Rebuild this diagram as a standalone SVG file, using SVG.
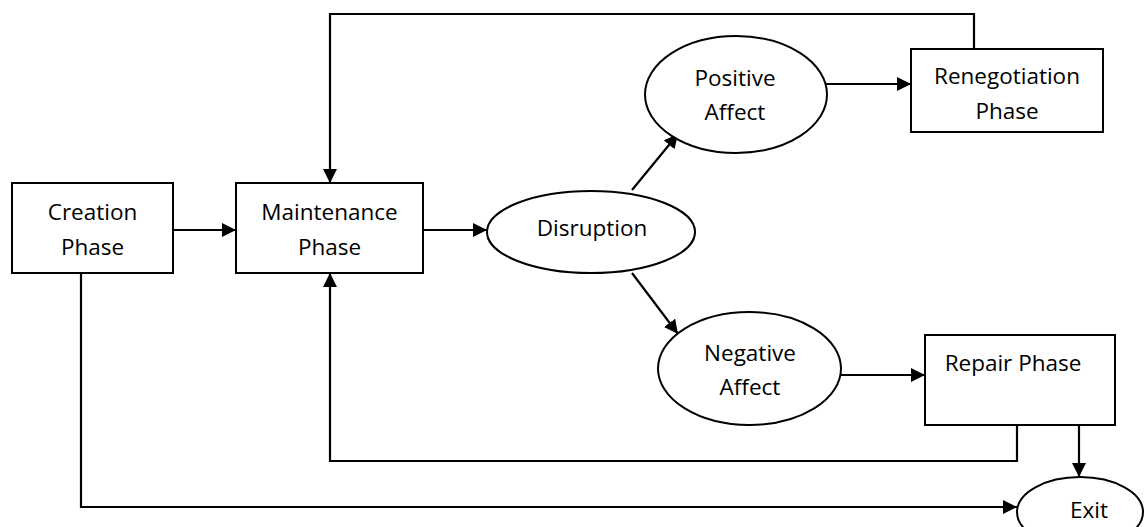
<svg xmlns="http://www.w3.org/2000/svg" width="1148" height="527" viewBox="0 0 1148 527">
<style>
.n{fill:#fff;stroke:#000;stroke-width:2}
.t{font-family:"Open Sans","Noto Sans","Liberation Sans",sans-serif;font-size:22.5px;fill:#000;text-anchor:middle}
.c{fill:none;stroke:#000;stroke-width:2.2}
.a{marker-end:url(#ah)}
</style>
<defs>
<marker id="ah" markerUnits="userSpaceOnUse" markerWidth="14" markerHeight="14" refX="14" refY="7" orient="auto">
<path d="M0,0 L14,7 L0,14 z" fill="#000"/>
</marker>
</defs>
<g id="connectors">
<line class="c a" x1="173" y1="230" x2="236" y2="230"/>
<line class="c a" x1="423" y1="230" x2="487" y2="230"/>
<line class="c a" x1="632" y1="190" x2="678" y2="134"/>
<line class="c a" x1="632" y1="273" x2="678" y2="334"/>
<line class="c a" x1="826" y1="84" x2="911" y2="84"/>
<line class="c a" x1="841" y1="375" x2="925" y2="375"/>
<polyline class="c a" points="974,49 974,14 330,14 330,183"/>
<polyline class="c a" points="1017,425 1017,461 330,461 330,273"/>
<polyline class="c a" points="81,273 81,507 1017,507"/>
<line class="c a" x1="1079" y1="425" x2="1079" y2="477"/>
</g>
<g id="creation">
<rect class="n" x="12" y="183" width="161" height="90"/>
<text class="t" x="92.5" y="220">Creation</text>
<text class="t" x="92.5" y="255">Phase</text>
</g>
<g id="maintenance">
<rect class="n" x="236" y="183" width="187" height="90"/>
<text class="t" x="329.5" y="220">Maintenance</text>
<text class="t" x="329.5" y="255">Phase</text>
</g>
<g id="disruption">
<ellipse class="n" cx="591" cy="232" rx="104" ry="41"/>
<text class="t" x="592" y="236">Disruption</text>
</g>
<g id="positive">
<ellipse class="n" cx="736" cy="94.5" rx="91" ry="58.5"/>
<text class="t" x="735" y="86">Positive</text>
<text class="t" x="735" y="120">Affect</text>
</g>
<g id="renegotiation">
<rect class="n" x="911" y="49" width="192" height="83"/>
<text class="t" x="1007" y="84">Renegotiation</text>
<text class="t" x="1007" y="119">Phase</text>
</g>
<g id="negative">
<ellipse class="n" cx="749.5" cy="368.5" rx="91.5" ry="56.5"/>
<text class="t" x="750" y="361">Negative</text>
<text class="t" x="750" y="395">Affect</text>
</g>
<g id="repair">
<rect class="n" x="925" y="335" width="190" height="90"/>
<text class="t" x="1013" y="371">Repair Phase</text>
</g>
<g id="exit">
<ellipse class="n" cx="1080" cy="512" rx="63" ry="35"/>
<text class="t" x="1089" y="518">Exit</text>
</g>
</svg>
